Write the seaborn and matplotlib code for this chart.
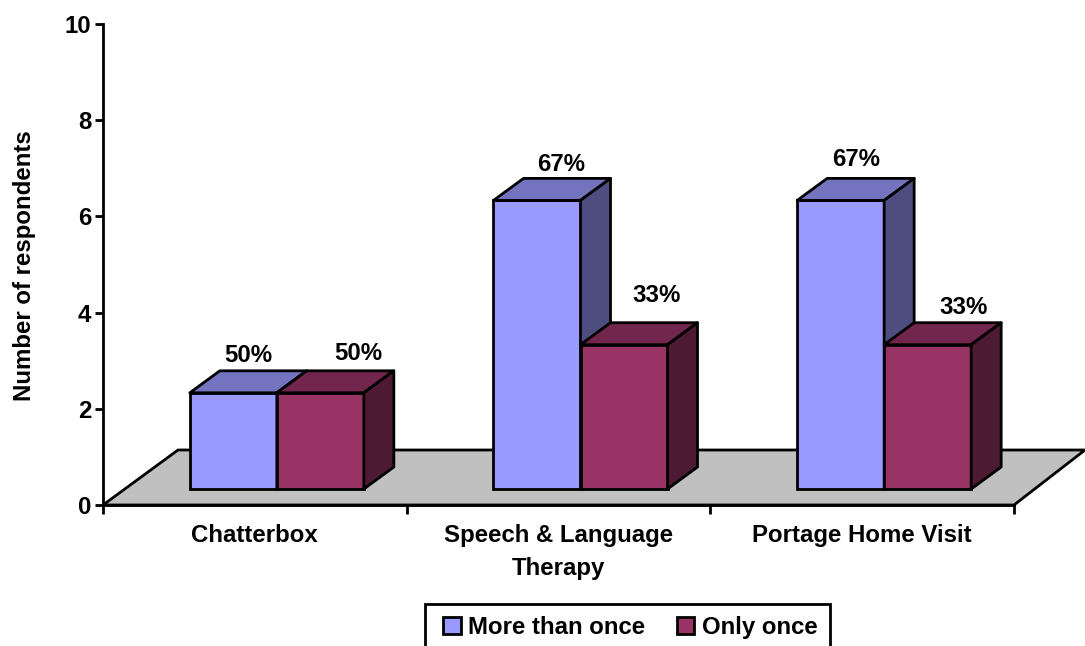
"""Respondents per service: bar chart with a drawn 3D look."""

import matplotlib
matplotlib.use("Agg")
import matplotlib.pyplot as plt
import pandas as pd
import seaborn as sns
from matplotlib.patches import Polygon, Rectangle
from matplotlib.transforms import Affine2D

categories = ["Chatterbox", "Speech & Language\nTherapy", "Portage Home Visit"]
series_names = ["More than once", "Only once"]
more_than_once = [2, 6, 6]
only_once = [2, 3, 3]
pct_more = ["50%", "67%", "67%"]
pct_once = ["50%", "33%", "33%"]

# label nudges in pixels from bar top centre, hand placed in the original
offsets_more = [(36.5, 52.8), (46, 51.9), (37.5, 56.4)]
offsets_once = [(59.5, 54.8), (55, 64.7), (57.5, 52.7)]

W, H = 1085, 646
FONT = 17.3
FRONT = {"More than once": "#9999FF", "Only once": "#993366"}
TOP = {"More than once": "#7373BF", "Only once": "#73264D"}
SIDE = {"More than once": "#4D4D80", "Only once": "#4D1A33"}

sns.set_style("white")
plt.rcParams["font.family"] = ["Liberation Sans", "DejaVu Sans"]
plt.rcParams["font.weight"] = "bold"
plt.rcParams["font.size"] = FONT

df = pd.DataFrame({
    "category": categories * 2,
    "series": [series_names[0]] * 3 + [series_names[1]] * 3,
    "value": more_than_once + only_once,
})

fig = plt.figure(figsize=(W / 100, H / 100), dpi=100)
ax = fig.add_axes([103 / W, (H - 505) / H, 911 / W, 481 / H])

sns.barplot(
    data=df, x="category", y="value", hue="series", palette=FRONT,
    hue_order=series_names, order=categories,
    width=0.573, gap=0, dodge=True, saturation=1, errorbar=None,
    edgecolor="black", linewidth=2.0, ax=ax,
)
ax.set_xlim(-0.5, 2.5)
ax.set_ylim(0, 10)

# floor, drawn behind the bars
to_px = ax.transData.transform
(x0, y0), (x1, _) = to_px((-0.5, 0)), to_px((2.5, 0))
floor = Polygon(
    [(x0, y0), (x0 + 75, y0 + 55), (x1 + 71, y0 + 55), (x1, y0)],
    closed=True, transform=Affine2D(), facecolor="#C0C0C0", edgecolor="black",
    linewidth=2.0, clip_on=False,
)
floor.set_zorder(-1)
fig.add_artist(floor)
ax.patch.set_visible(False)

# shift bars onto the floor, then add top and side faces
shift = ax.transData + Affine2D().translate(22, 16)
DX, DY = 30, 22
bars = [p for p in ax.patches if p.get_height() > 0]
names = [series_names[0]] * 3 + [series_names[1]] * 3
for i, (bar, name) in enumerate(zip(bars, names)):
    bar.set_transform(shift)
    bar.set_clip_on(False)
    bar.set_zorder(5 + i)
    lx, rx = bar.get_x(), bar.get_x() + bar.get_width()
    (xl, yb), (xr, yt) = shift.transform((lx, 0)), shift.transform((rx, bar.get_height()))
    for pts, col in (
        ([(xl, yt), (xl + DX, yt + DY), (xr + DX, yt + DY), (xr, yt)], TOP[name]),
        ([(xr, yb), (xr + DX, yb + DY), (xr + DX, yt + DY), (xr, yt)], SIDE[name]),
    ):
        ax.add_patch(Polygon(
            pts, closed=True, transform=Affine2D(), facecolor=col, edgecolor="black",
            linewidth=2.0, joinstyle="round", clip_on=False, zorder=5 + i,
        ))

# percentage labels
for i in range(3):
    for bar, text, off, val in (
        (bars[i], pct_more[i], offsets_more[i], more_than_once[i]),
        (bars[i + 3], pct_once[i], offsets_once[i], only_once[i]),
    ):
        ax.annotate(
            text, xy=(bar.get_x() + bar.get_width() / 2, val),
            xytext=(off[0] * 0.72, off[1] * 0.72), textcoords="offset points",
            ha="center", va="center", fontsize=FONT, fontweight="bold",
            color="black", annotation_clip=False, zorder=20,
        )

# axes furniture
sns.despine(ax=ax)
for side in ("left", "bottom"):
    ax.spines[side].set_linewidth(2.0)
    ax.spines[side].set_color("black")
    ax.spines[side].set_zorder(3)
ax.set_yticks([0, 2, 4, 6, 8, 10])
ax.tick_params(axis="y", length=6, width=2, pad=2.4, labelsize=FONT, left=True, color="black", labelcolor="black")
ax.set_xticks([-0.5, 0.5, 1.5, 2.5], minor=True)
ax.tick_params(axis="x", which="minor", length=6.5, width=2, bottom=True, color="black")
ax.tick_params(axis="x", which="major", length=0, pad=13.4, labelsize=FONT, labelcolor="black")
for lab in ax.get_xticklabels():
    lab.set_linespacing(1.55)
ax.set_xlabel("")
ax.set_ylabel("Number of respondents", fontsize=FONT, fontweight="bold", color="black")
ax.yaxis.set_label_coords((36 - 103) / 911, (505 - 266) / 481)

# legend frame runs off the bottom of the canvas in the original
frame = Rectangle(
    (425, H - 660), 405, 660 - 604, transform=Affine2D(), facecolor="white",
    edgecolor="black", linewidth=2.0, clip_on=False,
)
frame.set_zorder(-1)
fig.add_artist(frame)
sns.move_legend(
    ax, loc="upper left", bbox_to_anchor=(430 / W, (H - 603) / H),
    bbox_transform=fig.transFigure, ncol=2, title=None, frameon=False,
    fontsize=FONT, handlelength=0.72, handleheight=0.72, handletextpad=0.32,
    columnspacing=1.3, borderpad=0.55, borderaxespad=0, labelcolor="black",
)
leg = ax.get_legend()
leg.set_zorder(30)
for h in leg.get_patches():
    h.set_edgecolor("black")
    h.set_linewidth(2.0)

fig.savefig("out.png", dpi=100)
plt.close(fig)
